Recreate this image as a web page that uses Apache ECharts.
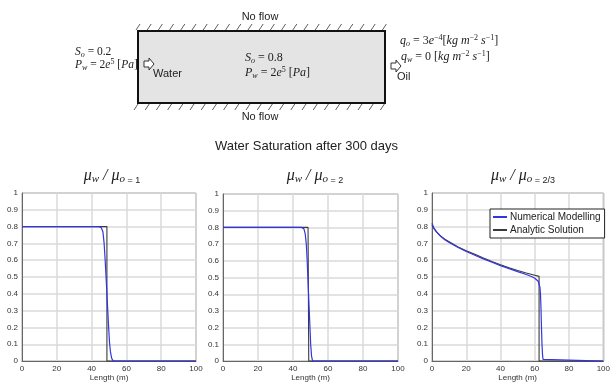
<!DOCTYPE html>
<html>
<head>
<meta charset="utf-8">
<script src="https://cdn.jsdelivr.net/npm/echarts@6/dist/echarts.min.js"></script>
<style>
  html, body { margin: 0; padding: 0; background: #fff; }
  #main { width: 613px; height: 383px; }
</style>
</head>
<body>
<div id="main"></div>
<script>
// panel 1: mu_w / mu_o = 1
const xNum1 = [0, 44, 45.5, 46.5, 47.2, 47.8, 48.3, 48.8, 49.3, 49.8, 50.3, 50.9, 51.6, 52.5, 100];
const yNum1 = [0.8, 0.8, 0.795, 0.77, 0.7, 0.6, 0.5, 0.4, 0.3, 0.2, 0.11, 0.05, 0.015, 0, 0];
const xAna1 = [0, 48.8, 48.8, 100];
const yAna1 = [0.8, 0.8, 0, 0];

// panel 2: mu_w / mu_o = 2
const xNum2 = [0, 45, 46.3, 47, 47.6, 48.1, 48.5, 48.9, 49.3, 49.7, 50.1, 50.6, 51.2, 100];
const yNum2 = [0.8, 0.8, 0.79, 0.76, 0.7, 0.6, 0.5, 0.4, 0.3, 0.2, 0.1, 0.03, 0, 0];
const xAna2 = [0, 48.6, 49, 49, 100];
const yAna2 = [0.8, 0.8, 0.79, 0, 0];

// panel 3: mu_w / mu_o = 2/3
const xNum3 = [0, 1, 2.5, 5, 7.5, 10, 15, 20, 25, 30, 35, 40, 45, 50, 55, 58, 60, 61, 62, 62.5, 63, 63.3, 63.6, 63.9, 64.2, 64.5, 64.8, 65.2, 100];
const yNum3 = [0.82, 0.795, 0.77, 0.742, 0.722, 0.705, 0.677, 0.652, 0.63, 0.608, 0.588, 0.568, 0.55, 0.532, 0.515, 0.503, 0.493, 0.486, 0.475, 0.465, 0.44, 0.4, 0.32, 0.2, 0.1, 0.04, 0.01, 0, 0];
const xAna3 = [0, 1, 2.5, 5, 7.5, 10, 15, 20, 25, 30, 35, 40, 45, 50, 55, 60, 62.5, 62.5, 100];
const yAna3 = [0.81, 0.79, 0.77, 0.745, 0.725, 0.71, 0.68, 0.657, 0.635, 0.613, 0.592, 0.573, 0.555, 0.539, 0.524, 0.511, 0.504, 0, 0];

const panelRatios = ['1', '2', '2/3'];

const BLUE = '#3535e0';
const DARK = '#3a3a3a';

const pairs = (xs, ys) => xs.map((x, i) => [x, ys[i]]);

const grids = [
  { left: 22, top: 193, width: 174, height: 171 },
  { left: 223, top: 194, width: 175, height: 171 },
  { left: 432, top: 193, width: 175, height: 171 }
];
const titleX = [107, 310, 518];

const serif = 'Liberation Serif';
const mathRich = {
  m: { fontFamily: serif, fontStyle: 'italic', fontWeight: 'normal', fontSize: 16, color: '#222', lineHeight: 18, verticalAlign: 'middle' },
  s: { fontFamily: serif, fontStyle: 'italic', fontWeight: 'normal', fontSize: 11, color: '#222', lineHeight: 9, verticalAlign: 'bottom' },
  e: { fontFamily: 'Liberation Sans', fontWeight: 'normal', fontSize: 9, color: '#222', lineHeight: 16, verticalAlign: 'bottom' }
};

function diagRich(size) {
  return {
    i: { fontFamily: serif, fontStyle: 'italic', fontSize: size, color: '#222', lineHeight: 14, verticalAlign: 'middle' },
    n: { fontFamily: serif, fontSize: size, color: '#222', lineHeight: 14, verticalAlign: 'middle' },
    sub: { fontFamily: serif, fontStyle: 'italic', fontSize: 8, color: '#222', lineHeight: 8, verticalAlign: 'bottom' },
    sup: { fontFamily: serif, fontSize: 8, color: '#222', lineHeight: 8, verticalAlign: 'top' }
  };
}

function txt(x, y, str, opts, size) {
  return {
    type: 'text', x: x, y: y, z: 10,
    style: Object.assign({ text: str, rich: diagRich(size || 12), verticalAlign: 'middle', fill: '#222' }, opts || {})
  };
}

// top schematic
const graphics = [];
const boxL = 138, boxR = 385, boxT = 31, boxB = 103;
graphics.push({ type: 'rect', z: 1, shape: { x: boxL, y: boxT, width: boxR - boxL, height: boxB - boxT },
  style: { fill: '#e4e4e4', stroke: '#111', lineWidth: 2 } });
for (let hx = boxL + 2; hx <= boxR + 4; hx += 11.2) {
  graphics.push({ type: 'line', shape: { x1: hx - 4, y1: boxT - 1, x2: hx, y2: boxT - 7 }, style: { stroke: '#333', lineWidth: 0.8 } });
  graphics.push({ type: 'line', shape: { x1: hx - 6, y1: boxB + 7, x2: hx - 2, y2: boxB + 1 }, style: { stroke: '#333', lineWidth: 0.8 } });
}
function blockArrow(x, y) {
  return { type: 'polygon', z: 5, shape: { points: [[x, y + 3], [x + 5, y + 3], [x + 5, y], [x + 10, y + 6], [x + 5, y + 12], [x + 5, y + 9], [x, y + 9]] },
    style: { fill: '#fff', stroke: '#333', lineWidth: 1 } };
}
graphics.push(blockArrow(144, 58));
graphics.push(blockArrow(391, 60));
graphics.push(txt(260, 17, 'No flow', { font: '11px Liberation Sans', align: 'center' }));
graphics.push(txt(260, 117, 'No flow', { font: '11px Liberation Sans', align: 'center' }));
graphics.push(txt(153, 74, 'Water', { font: '11px Liberation Sans' }));
graphics.push(txt(397, 77, 'Oil', { font: '11px Liberation Sans' }));
graphics.push(txt(75, 52, '{i|S}{sub|o}{n| = 0.2}', null, 11.5));
graphics.push(txt(75, 65, '{i|P}{sub|w}{n| = 2}{i|e}{sup|5}{n| [}{i|Pa}{n|]}', null, 11.5));
graphics.push(txt(245, 58, '{i|S}{sub|o}{n| = 0.8}'));
graphics.push(txt(245, 73, '{i|P}{sub|w}{n| = 2}{i|e}{sup|5}{n| [}{i|Pa}{n|]}'));
graphics.push(txt(400, 41, '{i|q}{sub|o}{n| = 3}{i|e}{sup|−4}{n|[}{i|kg m}{sup|−2}{i| s}{sup|−1}{n|]}'));
graphics.push(txt(401, 57, '{i|q}{sub|w}{n| = 0 [}{i|kg m}{sup|−2}{i| s}{sup|−1}{n|]}'));

const chart = echarts.init(document.getElementById('main'), null, { renderer: 'canvas' });

const titles = [{
  text: 'Water Saturation after 300 days',
  left: 'center', top: 135,
  textStyle: { fontFamily: 'Liberation Sans', fontSize: 13, fontWeight: 'normal', color: '#222' }
}];
panelRatios.forEach((r, i) => {
  titles.push({
    text: '{m|μ}{s|w}{m| / μ}{s|o}{e| = ' + r + '}',
    left: titleX[i], top: 162, textAlign: 'center',
    textStyle: { fontWeight: 'normal', rich: mathRich }
  });
});

const xAxes = grids.map((g, i) => ({
  type: 'value', gridIndex: i, min: 0, max: 100, interval: 20,
  name: 'Length (m)', nameLocation: 'middle', nameGap: 11,
  nameTextStyle: { fontFamily: 'Liberation Sans', fontSize: 8, color: '#333' },
  axisLine: { show: true, lineStyle: { color: '#666', width: 1 } },
  axisTick: { show: false },
  axisLabel: { fontFamily: 'Liberation Sans', fontSize: 8, color: '#333', margin: 4 },
  splitLine: { show: true, lineStyle: { color: '#dadada', width: 1.5 } }
}));
const yAxes = grids.map((g, i) => ({
  type: 'value', gridIndex: i, min: 0, max: 1, interval: 0.1,
  axisLine: { show: true, lineStyle: { color: '#666', width: 1 } },
  axisTick: { show: false },
  axisLabel: { fontFamily: 'Liberation Sans', fontSize: 8, color: '#333', margin: 4,
    formatter: v => String(Math.round(v * 10) / 10) },
  splitLine: { show: true, lineStyle: { color: '#dadada', width: 1.5 } }
}));

const num = [[xNum1, yNum1], [xNum2, yNum2], [xNum3, yNum3]];
const ana = [[xAna1, yAna1], [xAna2, yAna2], [xAna3, yAna3]];
const series = [];
for (let i = 0; i < 3; i++) {
  series.push({
    name: 'Numerical Modelling', type: 'line', xAxisIndex: i, yAxisIndex: i,
    data: pairs(num[i][0], num[i][1]), showSymbol: false, symbol: 'none',
    lineStyle: { color: BLUE, width: 1.2 }, itemStyle: { color: BLUE }, z: 3
  });
  series.push({
    name: 'Analytic Solution', type: 'line', xAxisIndex: i, yAxisIndex: i,
    data: pairs(ana[i][0], ana[i][1]), showSymbol: false, symbol: 'none',
    lineStyle: { color: DARK, width: 1.1 }, itemStyle: { color: DARK }, z: 2
  });
}

chart.setOption({
  animation: false,
  backgroundColor: '#fff',
  title: titles,
  grid: grids.map(g => Object.assign({ show: true, borderColor: '#777', borderWidth: 1, backgroundColor: 'transparent' }, g)),
  xAxis: xAxes,
  yAxis: yAxes,
  legend: {
    data: ['Numerical Modelling', 'Analytic Solution'],
    orient: 'vertical', left: 490, top: 209,
    backgroundColor: '#fff', borderColor: '#222', borderWidth: 1,
    padding: [3, 4, 3, 3], itemGap: 3, itemWidth: 14, itemHeight: 2, icon: 'rect',
    textStyle: { fontFamily: 'Liberation Sans', fontSize: 10, color: '#222', padding: [0, 0, 0, -2] }
  },
  graphic: graphics,
  series: series
});
</script>
</body>
</html>
